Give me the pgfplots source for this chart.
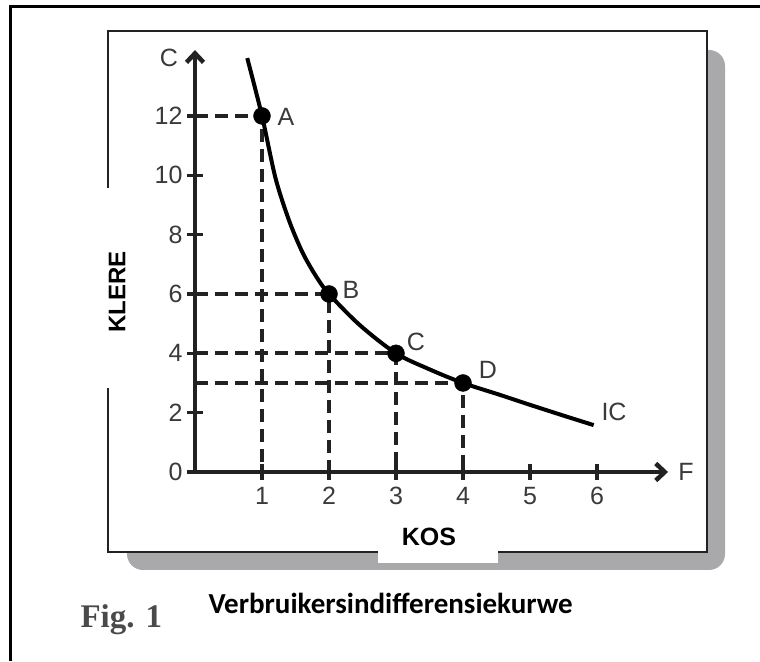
\documentclass[border=0pt]{standalone}
\usepackage{pgfplots}
\pgfplotsset{compat=1.18}
\usepackage{fontspec}
\setmainfont{Liberation Sans}
\newfontfamily\carlito{Carlito}
\newfontfamily\serifb{Liberation Serif}
\usetikzlibrary{arrows.meta}
\definecolor{lab}{HTML}{3A3A3A}
\definecolor{figc}{HTML}{4A4A4A}
\definecolor{shadowc}{HTML}{A9A9AC}
\definecolor{boxline}{HTML}{222222}
\begin{document}
\begin{tikzpicture}[x=1pt,y=1pt]
\fill[white] (0,0) rectangle (760,661);
\draw[line width=3.5pt, black] (10.5,0) -- (10.5,654.5) -- (760,654.5);
\fill[shadowc, rounded corners=16pt] (127,91) rectangle (725,611);
\filldraw[fill=white, draw=boxline, line width=2.5pt] (108,109) rectangle (707,630);
\fill[white] (95,273) rectangle (135,473);
\node[rotate=90, font=\fontsize{24}{24}\selectfont\bfseries, text=black] at (117,369) {KLERE};
\fill[white] (378,98) rectangle (498,151);
\node[font=\fontsize{25}{25}\selectfont\bfseries, text=black] at (429,124.5) {KOS};
\node[anchor=base west, font=\serifb\bfseries\fontsize{33}{33}\selectfont, text=figc] at (77,34) {Fig. 1};
\node[anchor=base west, font=\carlito\bfseries\fontsize{29}{29}\selectfont, text=black] at (205,47) {Verbruikersindifferensiekurwe};
\begin{axis}[
  at={(195pt,189pt)}, anchor=south west,
  x=67pt, y=29.67pt,
  xmin=0, xmax=7.06, ymin=0, ymax=14.22,
  axis lines=left,
  axis line style={line width=4.5pt, boxline, -{Straight Barb[length=9pt,width=17pt]}},
  xtick={1,2,3,4,5,6}, ytick={0,2,4,6,8,10,12},
  tick align=center, major tick length=16pt,
  tick style={line width=3.5pt, boxline},
  /pgf/number format/assume math mode=true,
  ticklabel style={font=\fontsize{25}{25}\selectfont, text=lab},
  xticklabel style={yshift=-4pt},
  yticklabel style={xshift=-1pt},
  clip=false,
]
\addplot[line width=4pt, boxline, dash pattern=on 13pt off 7pt] coordinates {(0,12) (1,12) (1,0)};
\addplot[line width=4pt, boxline, dash pattern=on 13pt off 7pt] coordinates {(0,6) (2,6) (2,0)};
\addplot[line width=4pt, boxline, dash pattern=on 13pt off 7pt] coordinates {(0,4) (3,4) (3,0)};
\addplot[line width=4pt, boxline, dash pattern=on 13pt off 7pt] coordinates {(0,3) (4,3) (4,0)};
\addplot[line width=4pt, black, smooth] coordinates {
  (0.78,13.95) (1,12) (1.2,9.92) (1.4,8.5) (1.6,7.42) (1.8,6.62) (2,6) (2.46,4.95)
  (3,4) (3.51,3.45) (4,3) (4.55,2.6) (4.95,2.3) (5.5,1.9) (5.95,1.58)};
\addplot[only marks, mark=*, mark size=8.5pt, black] coordinates {(1,12) (2,6) (3,4) (4,3)};
\end{axis}
\node[font=\fontsize{25}{25}\selectfont, text=lab] at (169,603) {C};
\node[font=\fontsize{25}{25}\selectfont, text=lab] at (686,189) {F};
\node[font=\fontsize{25}{25}\selectfont, text=lab] at (286,544) {A};
\node[font=\fontsize{25}{25}\selectfont, text=lab] at (351,371) {B};
\node[font=\fontsize{25}{25}\selectfont, text=lab] at (416,319) {C};
\node[font=\fontsize{25}{25}\selectfont, text=lab] at (488,291) {D};
\node[font=\fontsize{25}{25}\selectfont, text=lab] at (614,249) {IC};
\pgfresetboundingbox
\useasboundingbox (0,0) rectangle (760,661);
\end{tikzpicture}
\end{document}
